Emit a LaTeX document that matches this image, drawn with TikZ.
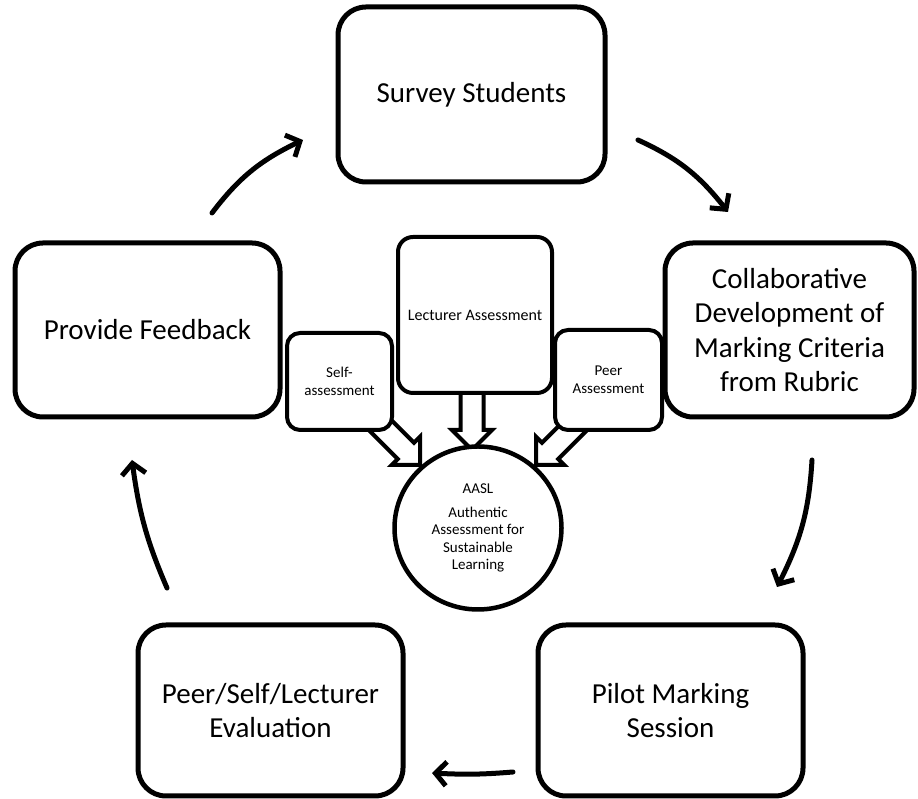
\documentclass[tikz,border=0pt]{standalone}
\usepackage{fontspec}
\setmainfont{Carlito}
\usetikzlibrary{arrows.meta,shapes.geometric,bending}
\begin{document}
\begin{tikzpicture}[x=1pt,y=1pt,
  bigbox/.style={draw, line width=5pt, rounded corners=28pt, fill=white, align=center,
    font=\fontsize{29}{34.5}\selectfont, inner sep=0pt},
  smallbox/.style={draw, line width=4pt, rounded corners=13pt, fill=white, align=center,
    font=\fontsize{15}{17.5}\selectfont, inner sep=0pt},
  cyc/.style={line width=5pt, line cap=round, -{Straight Barb[length=11pt,width=24pt,line width=5pt]}},
  blockarrow/.style={draw, line width=4pt, fill=white, line join=miter}
]
\useasboundingbox (0,0) rectangle (918,799);

% block arrows (drawn first so boxes cover their tails)
\draw[blockarrow] (460.5,414) -- (460.5,369) -- (452,369) -- (472,349) -- (492,369) -- (483.5,369) -- (483.5,414) -- cycle;
\draw[blockarrow] (371.6,398.6) -- (414.0,356.2) -- (420.0,362.2) -- (420,334) -- (391.8,334) -- (397.8,340.0) -- (355.4,382.4) -- cycle;
\draw[blockarrow] (584.4,398.6) -- (542.0,356.2) -- (536.0,362.2) -- (536,334) -- (564.2,334) -- (558.2,340.0) -- (600.6,382.4) -- cycle;

% main cycle boxes
\node[bigbox, minimum width=267pt, minimum height=175pt] (survey) at (471.5,704.5) {Survey Students};
\node[bigbox, minimum width=249pt, minimum height=174pt] (collab) at (789.5,469) {Collaborative\\Development of\\Marking Criteria\\from Rubric};
\node[bigbox, minimum width=265pt, minimum height=174pt] (feedback) at (147.5,469) {Provide Feedback};
\node[bigbox, minimum width=265pt, minimum height=171pt] (pilot) at (670.5,88.5) {Pilot Marking\\Session};
\node[bigbox, minimum width=265pt, minimum height=171pt] (evaluation) at (270.5,88.5) {Peer/Self/Lecturer\\Evaluation};

% centre boxes
\node[smallbox, minimum width=154pt, minimum height=156pt, rounded corners=15pt, font=\fontsize{16}{19}\selectfont] (lecturer) at (475,484) {Lecturer Assessment};
\node[smallbox, minimum width=105pt, minimum height=97pt] (self) at (339.5,417.5) {Self-\\assessment};
\node[smallbox, minimum width=107pt, minimum height=100pt] (peer) at (608.5,419) {Peer\\Assessment};

% central circle
\node[draw, ellipse, line width=4.5pt, fill=white, minimum width=167pt, minimum height=163pt, inner sep=0pt, align=center,
  font=\fontsize{15}{17.5}\selectfont] (aasl) at (478,271) {AASL\\[6pt]Authentic\\Assessment for\\Sustainable\\Learning};

% free ends of the cycle arrows
\coordinate (a1s) at (212,586);
\coordinate (a1e) at (303,659);
\coordinate (a2s) at (638,659);
\coordinate (a2e) at (728,587);
\coordinate (a3s) at (812,339);
\coordinate (a3e) at (777,212);
\coordinate (a4s) at (513,27);
\coordinate (a4e) at (432,26);
\coordinate (a5s) at (167,211);
\coordinate (a5e) at (132,339);

\draw[cyc] (a1s) to[bend left=14] (a1e);
\draw[cyc] (a2s) to[bend left=14] (a2e);
\draw[cyc] (a3s) to[bend left=12] (a3e);
\draw[cyc] (a4s) to[bend left=4] (a4e);
\draw[cyc] (a5s) to[bend left=8] (a5e);
\end{tikzpicture}
\end{document}
